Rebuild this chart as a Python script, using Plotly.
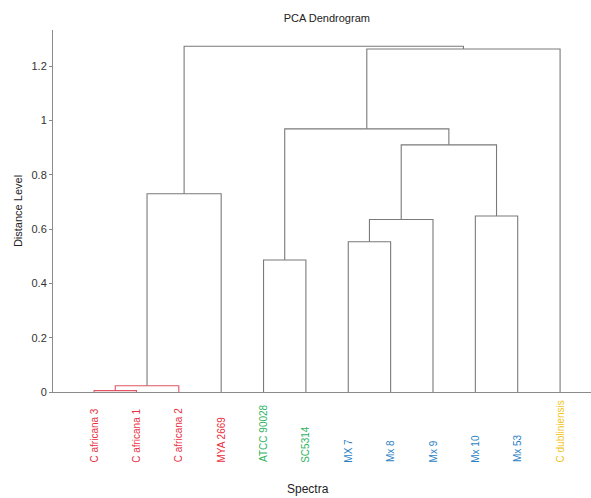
import plotly.graph_objects as go

# ---- data ----
leaf_labels = ["C africana 3", "C africana 1", "C africana 2", "MYA 2669",
               "ATCC 90028", "SC5314", "MX 7", "Mx 8", "Mx 9", "Mx 10",
               "Mx 53", "C dubliniensis"]
leaf_colors = ["#e8303f", "#e8303f", "#e8303f", "#e8303f",
               "#2fb35f", "#2fb35f", "#2c7fc4", "#2c7fc4", "#2c7fc4",
               "#2c7fc4", "#2c7fc4", "#f2c318"]
# linkage: node ids 0..11 are leaves, new nodes numbered from 12
merge_left = [0, 12, 13, 4, 6, 16, 9, 17, 15, 20, 14]
merge_right = [1, 2, 3, 5, 7, 8, 10, 18, 19, 11, 21]
merge_height = [0.005, 0.023, 0.73, 0.486, 0.553, 0.635, 0.648, 0.91, 0.969, 1.263, 1.273]
merge_color = ["#e05565", "#e05565", "#7a7a7a", "#7a7a7a", "#7a7a7a", "#7a7a7a",
               "#7a7a7a", "#7a7a7a", "#7a7a7a", "#7a7a7a", "#7a7a7a"]
y_ticks = [0, 0.2, 0.4, 0.6, 0.8, 1.0, 1.2]
y_tick_text = ["0", "0.2", "0.4", "0.6", "0.8", "1", "1.2"]

# ---- build dendrogram links from the linkage ----
n = len(leaf_labels)
node_x = {i: i + 1 for i in range(n)}
node_h = {i: 0.0 for i in range(n)}
segments = {}
for k, (a, b, h, c) in enumerate(zip(merge_left, merge_right, merge_height, merge_color)):
    nid = n + k
    xs = [node_x[a], node_x[a], node_x[b], node_x[b], None]
    ys = [node_h[a], h, h, node_h[b], None]
    segments.setdefault(c, ([], []))
    segments[c][0].extend(xs)
    segments[c][1].extend(ys)
    node_x[nid] = (node_x[a] + node_x[b]) / 2
    node_h[nid] = h

fig = go.Figure()
for c, (xs, ys) in segments.items():
    fig.add_trace(go.Scatter(x=xs, y=ys, mode="lines",
                             line=dict(color=c, width=1.1),
                             hoverinfo="skip", showlegend=False))

for i, (lab, col) in enumerate(zip(leaf_labels, leaf_colors)):
    fig.add_annotation(x=i + 1, xref="x", y=-0.2, yref="paper",
                       text=lab, textangle=-90, showarrow=False,
                       xanchor="center", yanchor="bottom",
                       font=dict(family="Liberation Sans, Arial", size=10, color=col))

fig.add_annotation(x=0.474, xref="paper", y=-0.268, yref="paper",
                   text="Spectra", showarrow=False,
                   xanchor="center", yanchor="middle",
                   font=dict(family="Liberation Sans, Arial", size=12, color="#222"))

fig.update_layout(
    width=591, height=498,
    margin=dict(l=53, r=0, t=30, b=106),
    paper_bgcolor="white", plot_bgcolor="white",
    title=dict(text="PCA Dendrogram", x=0.553, xanchor="center",
               y=0.964, yanchor="middle", yref="container",
               font=dict(family="Liberation Sans, Arial", size=11, color="#222")),
    xaxis=dict(range=[0.03, 12.73], showgrid=False, zeroline=False,
               showticklabels=False, ticks="", showline=True,
               linecolor="#8a8a8a", linewidth=1),
    yaxis=dict(range=[0, 1.333], showgrid=False, zeroline=False,
               tickvals=y_ticks, ticktext=y_tick_text, ticks="outside",
               ticklen=3, tickcolor="#8a8a8a", showline=True,
               linecolor="#8a8a8a", linewidth=1,
               tickfont=dict(family="Liberation Sans, Arial", size=11, color="#333"),
               title=dict(text="Distance Level", standoff=6,
                          font=dict(family="Liberation Sans, Arial", size=11, color="#222"))),
)

fig.write_html("out.html", config={"displayModeBar": False},
               post_script="document.body.style.margin='0';document.body.style.overflow='hidden';")
